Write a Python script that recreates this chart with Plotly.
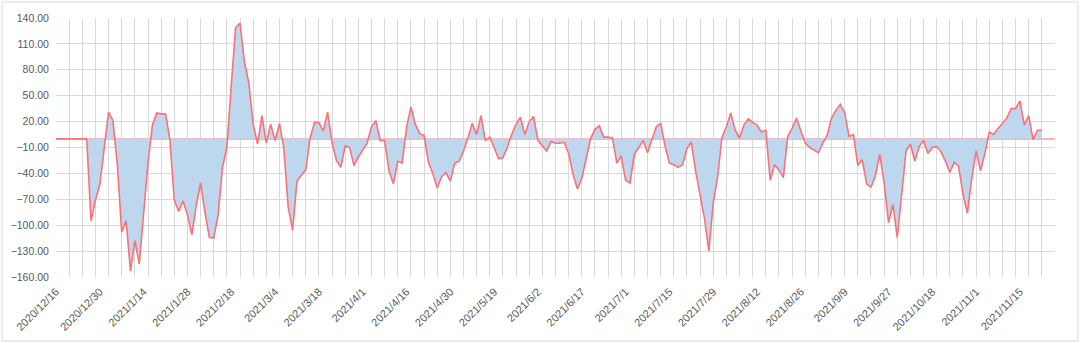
import pandas as pd
import plotly.graph_objects as go

# Chinese market holidays (weekdays) inside the period
holidays = ["2021-01-01", "2021-02-11", "2021-02-12", "2021-02-15", "2021-02-16",
            "2021-02-17", "2021-04-05", "2021-05-03", "2021-05-04", "2021-05-05",
            "2021-06-14", "2021-09-20", "2021-09-21", "2021-10-01", "2021-10-04",
            "2021-10-05", "2021-10-06", "2021-10-07"]
bdays = [d for d in pd.bdate_range("2020-12-16", "2021-11-30")
         if d.strftime("%Y-%m-%d") not in holidays]
axis_dates = [f"{d.year}/{d.month}/{d.day}" for d in bdays[:229]]

values = [
    0, 0, 0, 0, 0, 0, 0, 0, -95, -71,
    -53, -8, 31, 21, -30, -108, -95, -153, -118, -145,
    -88, -28, 16, 30, 29, 29, -1, -71, -84, -72,
    -88, -111, -77, -51, -85, -114, -115, -88, -33, -10,
    62, 129, 134, 89, 65, 17, -6, 27, -5, 17,
    -2, 18, -11, -79, -106, -49, -42, -36, 1, 19,
    19, 9, 31, -4, -25, -33, -8, -10, -31, -21,
    -13, -5, 14, 21, -2, -2, -37, -52, -26, -28,
    13, 37, 17, 6, 4, -27, -40, -57, -44, -39,
    -49, -28, -26, -14, 1, 18, 5, 27, -2, 2,
    -10, -23, -22, -10, 5, 17, 25, 5, 20, 26,
    -2, -8, -14, -3, -5, -5, -4, -17, -41, -58,
    -46, -23, 0, 11, 15, 2, 2, 1, -28, -20,
    -48, -51, -18, -10, -2, -16, -2, 14, 18, -8,
    -28, -30, -33, -30, -11, -4, -38, -64, -92, -130,
    -74, -44, 2, 14, 30, 10, 1, 16, 23, 19,
    16, 8, 10, -48, -30, -36, -45, 3, 12, 24,
    10, -5, -10, -13, -16, -5, 4, 24, 33, 40,
    30, 3, 5, -31, -24, -52, -56, -43, -18, -51,
    -97, -76, -114, -65, -14, -6, -26, -9, -2, -17,
    -10, -9, -15, -26, -39, -27, -32, -64, -86, -46,
    -14, -37, -17, 8, 5, 12, 18, 24, 35, 35,
    44, 16, 27, -1, 10, 10,
]
dates = axis_dates[:len(values)]
label_dates = axis_dates[::10][:23]
y_ticks = [140, 110, 80, 50, 20, -10, -40, -70, -100, -130, -160]

grid_color = "#D9D9D9"
text_color = "#595959"
font_family = "Liberation Sans, Arial, sans-serif"

pos = list(range(len(dates)))
n_axis = len(axis_dates) - 1
label_pos = [axis_dates.index(d) for d in label_dates]
grid_pos = list(range(0, n_axis + 1, 3))

fig = go.Figure()
fig.add_trace(go.Scatter(
    x=pos, y=values, mode="lines", customdata=dates,
    line=dict(color="#FF7075", width=1.6),
    fill="tozeroy", fillcolor="#BDD7EE",
    hovertemplate="%{customdata}: %{y:.2f}<extra></extra>", showlegend=False,
))

fig.update_layout(
    width=1080, height=343,
    margin=dict(l=56, r=25, t=18, b=66),
    paper_bgcolor="white", plot_bgcolor="white",
    font=dict(family=font_family, size=11, color=text_color),
    xaxis=dict(
        range=[0, n_axis], automargin=False,
        tickmode="array", tickvals=label_pos, ticktext=label_dates,
        tickangle=-45, showgrid=False, zeroline=False, showline=False,
        ticks="outside", ticklen=3, tickcolor="rgba(0,0,0,0)",
        tickfont=dict(size=11, color=text_color),
        minor=dict(tickmode="array", tickvals=grid_pos, ticks="inside",
                   ticklen=1, tickcolor="rgba(0,0,0,0)",
                   showgrid=True, gridcolor=grid_color, gridwidth=1),
    ),
    yaxis=dict(
        range=[-160, 140], tickmode="array", tickvals=y_ticks, automargin=False,
        tickformat=".2f", showgrid=True, gridcolor=grid_color, gridwidth=1,
        zeroline=True, zerolinecolor="#F7B5B5", zerolinewidth=1.6,
        showline=False, ticks="outside", ticklen=4, tickcolor="rgba(0,0,0,0)",
        tickfont=dict(size=10.5, color=text_color),
    ),
    shapes=[dict(
        type="rect", xref="paper", yref="paper",
        x0=-54 / 999, x1=1022 / 999, y0=-64 / 259, y1=1 + 16 / 259,
        line=dict(color="#D9D9D9", width=1), fillcolor="rgba(0,0,0,0)",
        layer="below",
    )],
)

fig.write_html("out.html")
